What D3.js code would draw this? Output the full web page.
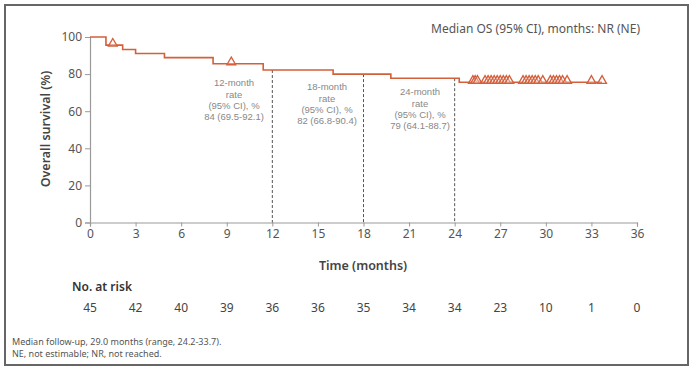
<!DOCTYPE html>
<html><head><meta charset="utf-8">
<script src="https://cdn.jsdelivr.net/npm/d3@7"></script>
<style>html,body{margin:0;padding:0;background:#fff;}svg{display:block;font-family:"Noto Sans",sans-serif;}</style>
</head><body><svg id="c" width="692" height="368"></svg>
<script>
// KM step curve: [time (months), survival %]
const stepTimes = [0, 1.05, 2.15, 3.0, 4.9, 8.1, 11.4, 16.0, 19.8, 24.3, 33.7];
const stepSurv  = [100, 95.6, 93.3, 91.1, 88.9, 85.6, 82.2, 80.0, 77.8, 75.6, 75.6];
// censored times
const censorTimes = [1.5, 9.3, 25.2, 25.35, 25.5, 26.0, 26.2, 26.4, 26.6, 26.8, 27.0, 27.2, 27.4, 27.6,
  28.5, 28.7, 28.9, 29.1, 29.3, 29.5, 29.8, 30.3, 30.5, 30.7, 30.9, 31.1, 31.4, 33.0, 33.7];
const xTicks = [0,3,6,9,12,15,18,21,24,27,30,33,36];
const yTicks = [0,20,40,60,80,100];
const atRisk = [45,42,40,39,36,36,35,34,34,23,10,1,0];
const landmarks = [12,18,24];
const landmarkLabels = [
  ["12-month","rate","(95% CI), %","84 (69.5-92.1)"],
  ["18-month","rate","(95% CI), %","82 (66.8-90.4)"],
  ["24-month","rate","(95% CI), %","79 (64.1-88.7)"]
];
const labelCenters = [234, 327, 420];
const labelTops = [83, 87, 92];

const svg = d3.select("#c");
const x = d3.scaleLinear().domain([0,36]).range([90,637]);
const y = d3.scaleLinear().domain([0,100]).range([222.5,37]);
const col = "#d35f3b";

svg.append("rect").attr("x",5).attr("y",5).attr("width",683).attr("height",360)
  .attr("fill","none").attr("stroke","#666").attr("stroke-width",2);

// axes
const gx = svg.append("g").attr("transform",`translate(0,${y(0)})`)
  .call(d3.axisBottom(x).tickValues(xTicks).tickSize(4).tickPadding(3));
const gy = svg.append("g").attr("transform",`translate(${x(0)},0)`)
  .call(d3.axisLeft(y).tickValues(yTicks).tickSize(5).tickPadding(3));
[gx,gy].forEach(g=>{
  g.select(".domain").attr("stroke","#9a9a9a").attr("stroke-width",1.2);
  g.selectAll(".tick line").attr("stroke","#9a9a9a");
  g.selectAll(".tick text").attr("fill","#555").attr("font-size",12).attr("font-family","Noto Sans, sans-serif");
});

function survAt(t){ let s=100; for(let i=0;i<stepTimes.length;i++){ if(stepTimes[i]<=t) s=stepSurv[i]; } return s; }

// landmark dashed lines
svg.selectAll(".lm").data(landmarks).enter().append("line")
  .attr("x1",d=>x(d)).attr("x2",d=>x(d)).attr("y1",d=>y(survAt(d))).attr("y2",y(0))
  .attr("stroke","#555").attr("stroke-width",1).attr("stroke-dasharray","3,2");

// landmark labels
landmarkLabels.forEach((lines,i)=>{
  lines.forEach((t,j)=>{
    svg.append("text").attr("x",labelCenters[i]).attr("y",labelTops[i]+j*11.2+3.3)
      .attr("text-anchor","middle").attr("font-size",9.5).attr("font-family","Liberation Sans, sans-serif")
      .attr("fill","#888").text(t);
  });
});

// KM line
const pts = stepTimes.map((t,i)=>[t,stepSurv[i]]);
const line = d3.line().x(d=>x(d[0])).y(d=>y(d[1])).curve(d3.curveStepAfter);
svg.append("path").attr("d",line(pts)).attr("fill","none").attr("stroke",col).attr("stroke-width",1.6);

// censor marks
const tri = d3.symbol().type(d3.symbolTriangle).size(34);
svg.selectAll(".cen").data(censorTimes).enter().append("path")
  .attr("d",tri).attr("transform",d=>`translate(${x(d)},${y(survAt(d))-1.5})`)
  .attr("fill","#fff").attr("fill-opacity",0.3).attr("stroke",col).attr("stroke-width",1.3);

// titles
svg.append("text").attr("transform","translate(50,129) rotate(-90)").attr("text-anchor","middle")
  .attr("font-size",12.5).attr("font-weight",600).attr("fill","#444").text("Overall survival (%)");
svg.append("text").attr("x",363).attr("y",270).attr("text-anchor","middle")
  .attr("font-size",12.5).attr("font-weight",600).attr("fill","#444").text("Time (months)");
svg.append("text").attr("x",640).attr("y",33).attr("text-anchor","end")
  .attr("font-size",12).attr("fill","#555").text("Median OS (95% CI), months: NR (NE)");

// at risk
svg.append("text").attr("x",72).attr("y",291).attr("font-size",12).attr("font-weight",600).attr("fill","#333").text("No. at risk");
svg.selectAll(".ar").data(atRisk).enter().append("text")
  .attr("x",(d,i)=>x(xTicks[i])).attr("y",312).attr("text-anchor","middle")
  .attr("font-size",12).attr("fill","#444").text(d=>d);

// footnotes
svg.append("text").attr("x",12).attr("y",345).attr("font-size",9).attr("fill","#555")
  .text("Median follow-up, 29.0 months (range, 24.2-33.7).");
svg.append("text").attr("x",12).attr("y",357).attr("font-size",9).attr("fill","#555")
  .text("NE, not estimable; NR, not reached.");
</script></body></html>
